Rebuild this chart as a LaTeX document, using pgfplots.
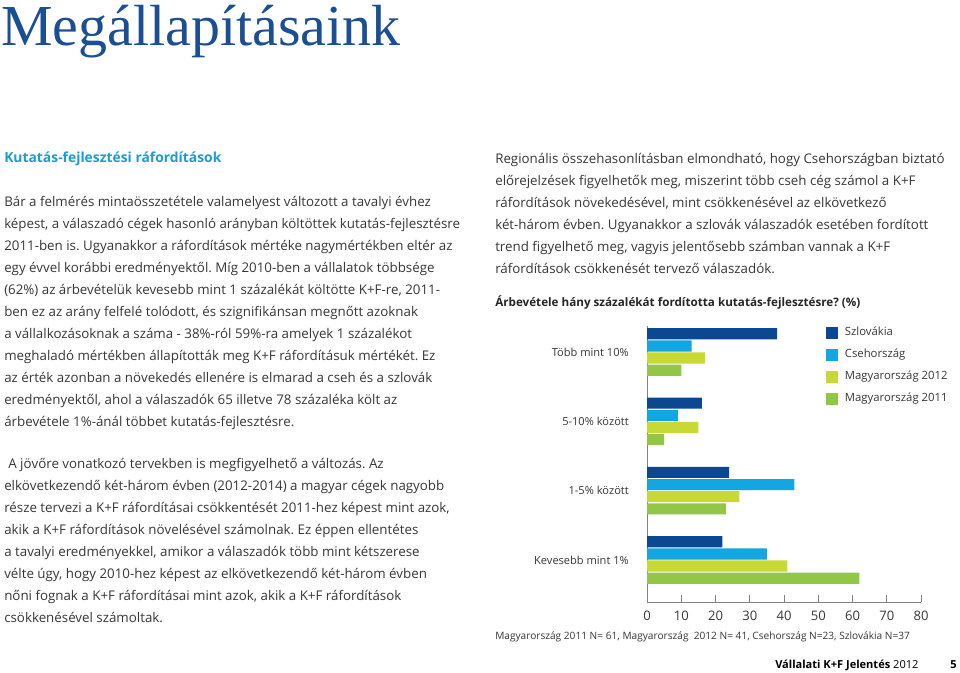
\documentclass[border=0pt]{standalone}
\usepackage{pgfplots}
\pgfplotsset{compat=1.18}
\usepackage{fontspec}
\setmainfont{Open Sans}
\newfontfamily\serif{Liberation Serif}
\definecolor{szl}{RGB}{12,72,146}
\definecolor{cse}{RGB}{18,166,226}
\definecolor{m12}{RGB}{200,216,52}
\definecolor{m11}{RGB}{146,198,72}
\definecolor{txt}{RGB}{55,55,55}
\definecolor{ttl}{RGB}{27,79,148}
\definecolor{hd}{RGB}{28,156,214}
\newcommand\fs[1]{\fontsize{#1}{#1}\selectfont}
\def\bfnt{\fs{10}}
\newcommand\tl[3]{\node[anchor=base west,inner sep=0pt,text=txt,font=\bfnt] at ({#1*0.75pt},{-#2*0.75pt}) {#3};}
\frenchspacing
\begin{document}
\begin{tikzpicture}
\fill[white] (0pt,0pt) rectangle (720pt,-504pt);
% title
\node[anchor=base west,inner sep=0pt,text=ttl,font=\serif\fs{43.5}] at (0.75pt,-33.75pt) {Megállapításaink};
\node[anchor=base west,inner sep=0pt,text=hd,font=\bfseries\fs{10.4}] at (3pt,-121.5pt) {Kutatás-fejlesztési ráfordítások};
% paragraph 1
\tl{4}{206}{Bár a felmérés mintaösszetétele valamelyest változott a tavalyi évhez}
\tl{4}{228}{képest, a válaszadó cégek hasonló arányban költöttek kutatás-fejlesztésre}
\tl{4}{250}{2011-ben is. Ugyanakkor a ráfordítások mértéke nagymértékben eltér az}
\tl{4}{272}{egy évvel korábbi eredményektől. Míg 2010-ben a vállalatok többsége}
\tl{4}{294}{(62\%) az árbevételük kevesebb mint 1 százalékát költötte K+F-re, 2011-}
\tl{4}{316}{ben ez az arány felfelé tolódott, és szignifikánsan megnőtt azoknak}
\tl{4}{338}{a vállalkozásoknak a száma - 38\%-ról 59\%-ra amelyek 1 százalékot}
\tl{4}{360}{meghaladó mértékben állapították meg K+F ráfordításuk mértékét. Ez}
\tl{4}{382}{az érték azonban a növekedés ellenére is elmarad a cseh és a szlovák}
\tl{4}{404}{eredményektől, ahol a válaszadók 65 illetve 78 százaléka költ az}
\tl{4}{426}{árbevétele 1\%-ánál többet kutatás-fejlesztésre.}
% paragraph 2
\tl{8}{468}{A jövőre vonatkozó tervekben is megfigyelhető a változás. Az}
\tl{4}{490}{elkövetkezendő két-három évben (2012-2014) a magyar cégek nagyobb}
\tl{4}{512}{része tervezi a K+F ráfordításai csökkentését 2011-hez képest mint azok,}
\tl{4}{534}{akik a K+F ráfordítások növelésével számolnak. Ez éppen ellentétes}
\tl{4}{556}{a tavalyi eredményekkel, amikor a válaszadók több mint kétszerese}
\tl{4}{578}{vélte úgy, hogy 2010-hez képest az elkövetkezendő két-három évben}
\tl{4}{600}{nőni fognak a K+F ráfordításai mint azok, akik a K+F ráfordítások}
\tl{4}{622}{csökkenésével számoltak.}
% right paragraph
\tl{495}{163}{Regionális összehasonlításban elmondható, hogy Csehországban biztató}
\tl{495}{185}{előrejelzések figyelhetők meg, miszerint több cseh cég számol a K+F}
\tl{495}{207}{ráfordítások növekedésével, mint csökkenésével az elkövetkező}
\tl{495}{229}{két-három évben. Ugyanakkor a szlovák válaszadók esetében fordított}
\tl{495}{251}{trend figyelhető meg, vagyis jelentősebb számban vannak a K+F}
\tl{495}{273}{ráfordítások csökkenését tervező válaszadók.}
% chart title
\node[anchor=base west,inner sep=0pt,text=black!85,font=\bfseries\fs{8.75}] at (371.25pt,-229.5pt) {Árbevétele hány százalékát fordította kutatás-fejlesztésre? (\%)};
% chart
\begin{axis}[at={(485.25pt,-451.5pt)}, anchor=south west, scale only axis,
  width=205.5pt, height=207pt,
  xmin=0, xmax=80, ymin=-0.606, ymax=3.375,
  axis x line=bottom, axis y line=left,
  axis line style={-, draw=black!50, line width=0.6pt},
  tick align=inside,
  xtick={0,10,...,80}, ytick={0,1,2,3},
  yticklabels={Kevesebb mint 1\%,1-5\% között,5-10\% között,Több mint 10\%},
  x tick style={draw=black!50, line width=0.6pt}, major tick length=5pt,
  y tick style={draw=none},
  /pgf/number format/assume math mode=true,
  xticklabel style={font=\fs{9.8}, text=txt, yshift=-3pt},
  yticklabel style={font=\fs{8.3}, text=txt, inner sep=0pt, xshift=-13.5pt},
  legend style={at={(0.653,1)}, anchor=north west, draw=none, fill=none,
    font=\fs{8.5}, text=txt, row sep=7pt, inner sep=0pt,
    nodes={inner sep=0pt, text height=7pt, text depth=2.5pt}},
  legend cell align=left,
  legend image code/.code={\fill[#1] (0pt,-4.5pt) rectangle (9pt,4.5pt);},
  clip=false,
]
\addplot[xbar, bar width=0.16, bar shift=0.263, fill=szl, draw=none] coordinates {(22,0) (24,1) (16,2) (38,3)};
\addplot[xbar, bar width=0.16, bar shift=0.087, fill=cse, draw=none] coordinates {(35,0) (43,1) (9,2) (13,3)};
\addplot[xbar, bar width=0.16, bar shift=-0.087, fill=m12, draw=none] coordinates {(41,0) (27,1) (15,2) (17,3)};
\addplot[xbar, bar width=0.16, bar shift=-0.263, fill=m11, draw=none] coordinates {(62,0) (23,1) (5,2) (10,3)};
\legend{\hspace{5pt}Szlovákia,\hspace{5pt}Csehország,\hspace{5pt}Magyarország 2012,\hspace{5pt}Magyarország 2011}
\end{axis}
% note
\node[anchor=base west,inner sep=0pt,text=txt,font=\fs{7.6}] at (371.25pt,-479.25pt) {Magyarország 2011 N= 61, Magyarország\ \ 2012 N= 41, Csehország N=23, Szlovákia N=37};
% footer
\node[anchor=base west,inner sep=0pt,text=black,font=\fs{8.3}] at (581.25pt,-501pt) {\textbf{Vállalati K+F Jelentés} 2012};
\node[anchor=base west,inner sep=0pt,text=black,font=\bfseries\fs{8.3}] at (712.5pt,-501pt) {5};
\end{tikzpicture}
\end{document}
